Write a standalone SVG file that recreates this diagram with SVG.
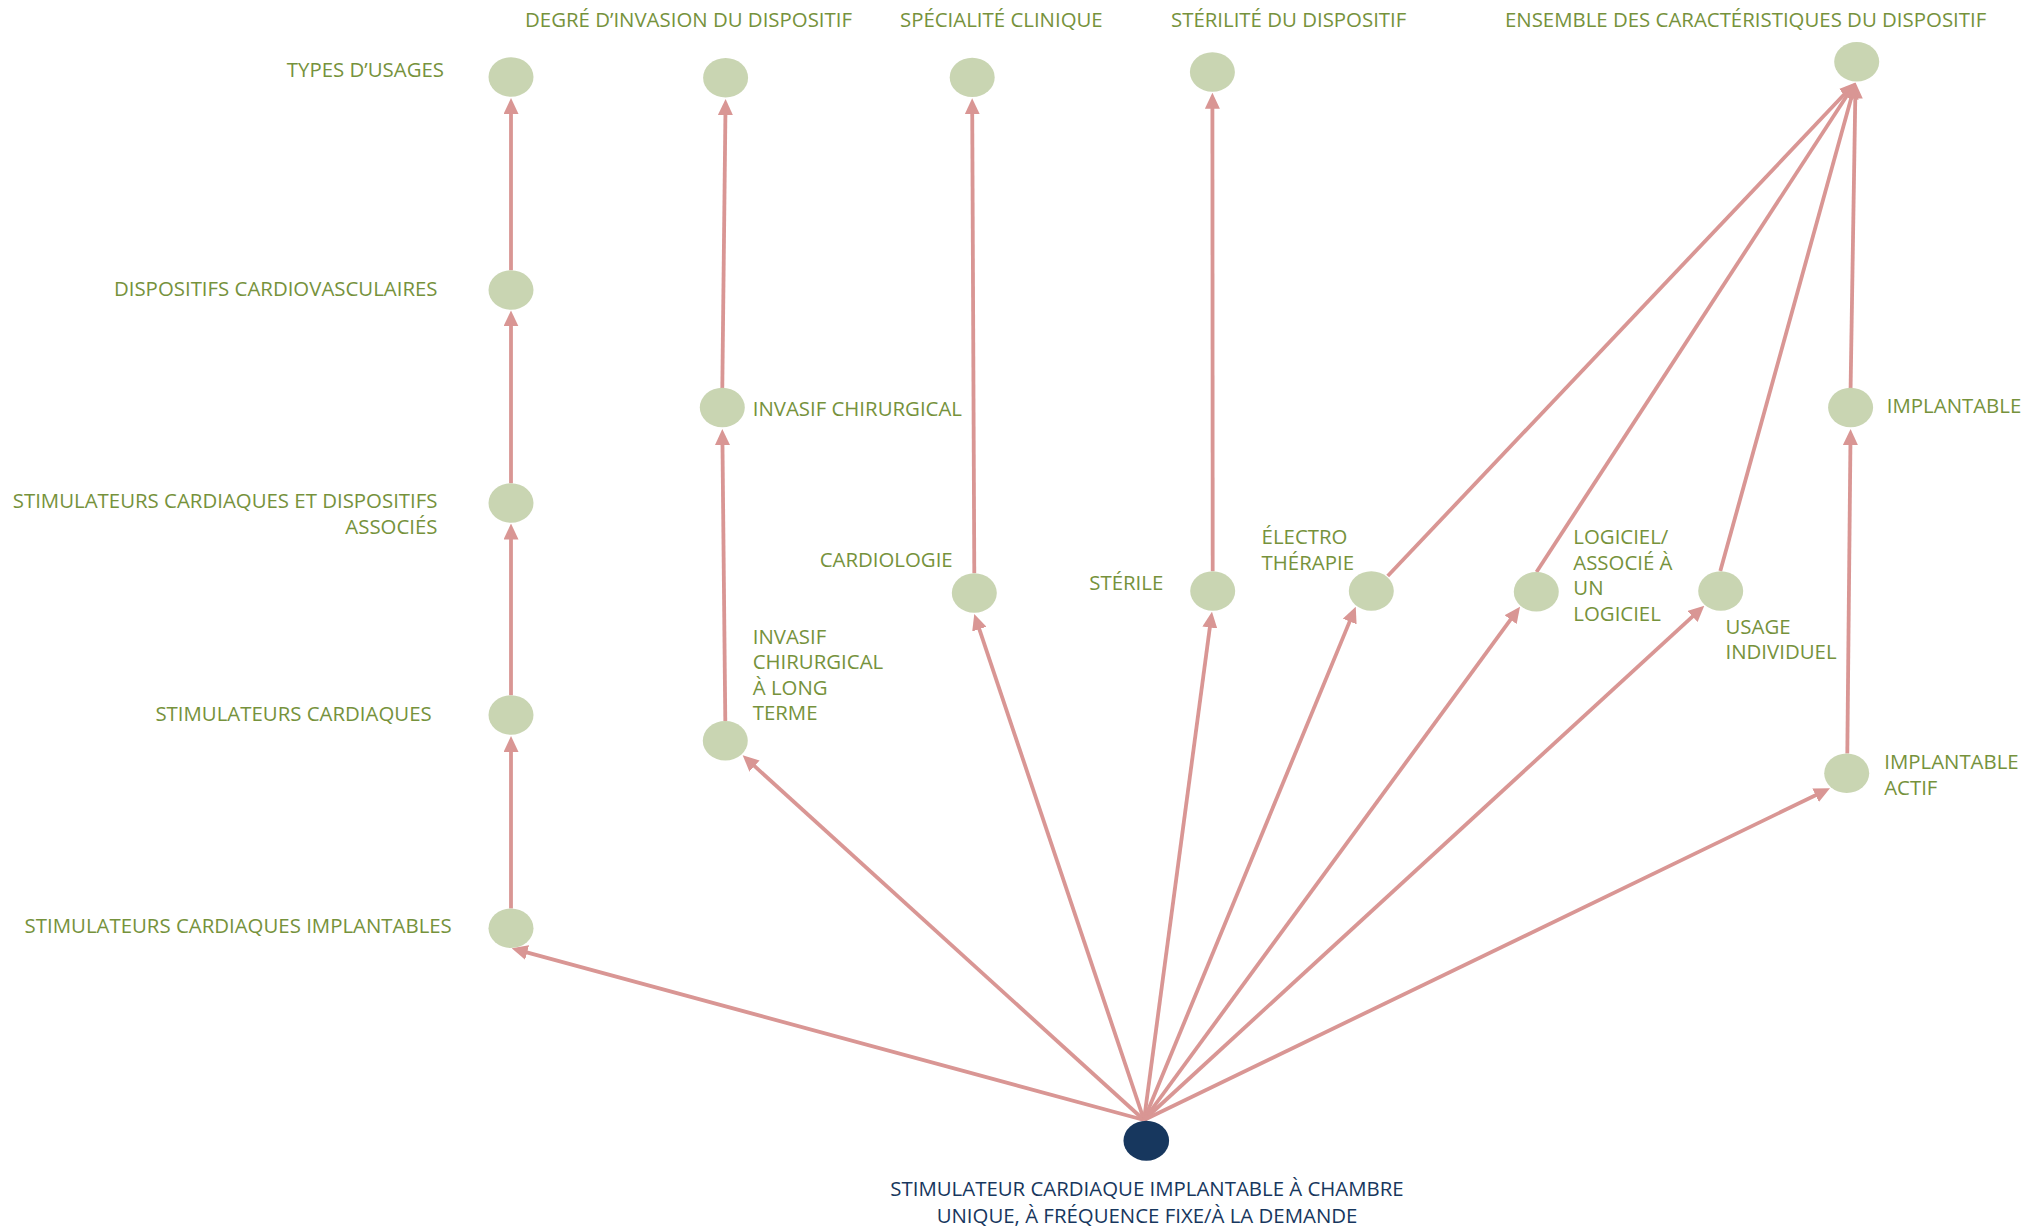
<svg xmlns="http://www.w3.org/2000/svg" width="2031" height="1232" viewBox="0 0 2031 1232">
<style>
.n{fill:#C9D5B2}
.r{fill:#17375E}
.t{font-family:"Open Sans","Liberation Sans",sans-serif;font-size:20.4px;fill:#76923C}
.rt{font-family:"Open Sans","Liberation Sans",sans-serif;font-size:20.4px;fill:#17375E}
.e{stroke:#D99694;stroke-width:3.8;fill:none;marker-end:url(#a)}
.end{text-anchor:end}
.mid{text-anchor:middle}
</style>
<defs>
<marker id="a" markerUnits="userSpaceOnUse" markerWidth="16" markerHeight="15" viewBox="0 0 16 15" refX="8" refY="7.5" orient="auto">
<path d="M0,0 L16,7.5 L0,15 z" fill="#D99694"/>
</marker>
</defs>
<rect width="2031" height="1232" fill="#FFFFFF"/>
<g id="connectors">
<line class="e" x1="511" y1="908.5" x2="511" y2="744"/>
<line class="e" x1="511" y1="695.3" x2="511" y2="531.5"/>
<line class="e" x1="511" y1="483.3" x2="511" y2="318.4"/>
<line class="e" x1="511" y1="270.3" x2="511" y2="106"/>
<line class="e" x1="725.3" y1="721" x2="722.4" y2="437"/>
<line class="e" x1="722.3" y1="388" x2="725.5" y2="107"/>
<line class="e" x1="974.3" y1="573.3" x2="972.2" y2="106.2"/>
<line class="e" x1="1212.7" y1="571.3" x2="1212.4" y2="100.7"/>
<line class="e" x1="1847.3" y1="753.5" x2="1850.5" y2="437"/>
<line class="e" x1="1850.6" y1="388" x2="1855.4" y2="90.5"/>
<line class="e" x1="1387.7" y1="576" x2="1850" y2="88.3"/>
<line class="e" x1="1536.5" y1="572" x2="1851.1" y2="89.2"/>
<line class="e" x1="1720.3" y1="571" x2="1853.4" y2="90.2"/>
<line class="e" x1="1144" y1="1120" x2="519.4" y2="950.4"/>
<line class="e" x1="1144" y1="1120" x2="748.6" y2="760.7"/>
<line class="e" x1="1144" y1="1120" x2="976.8" y2="621.6"/>
<line class="e" x1="1144" y1="1120" x2="1210.9" y2="619.6"/>
<line class="e" x1="1144" y1="1120" x2="1352.7" y2="614.1"/>
<line class="e" x1="1144" y1="1120" x2="1515.3" y2="613.2"/>
<line class="e" x1="1144" y1="1120" x2="1698.4" y2="611.1"/>
<line class="e" x1="1144" y1="1120" x2="1822.8" y2="791.8"/>
</g>
<g id="types"><ellipse class="n" cx="511" cy="77" rx="22.5" ry="19.7"/><text class="t end" x="444" y="77">TYPES D’USAGES</text></g>
<g id="cardiovasculaires"><ellipse class="n" cx="511" cy="290" rx="22.5" ry="19.7"/><text class="t end" x="437.5" y="296">DISPOSITIFS CARDIOVASCULAIRES</text></g>
<g id="stim-associes"><ellipse class="n" cx="511" cy="503" rx="22.5" ry="19.7"/><text class="t end" x="437.5" y="508">STIMULATEURS CARDIAQUES ET DISPOSITIFS</text><text class="t end" x="437.5" y="534">ASSOCIÉS</text></g>
<g id="stim"><ellipse class="n" cx="511" cy="715" rx="22.5" ry="19.7"/><text class="t end" x="431.7" y="721">STIMULATEURS CARDIAQUES</text></g>
<g id="stim-impl"><ellipse class="n" cx="511" cy="928.3" rx="22.5" ry="19.7"/><text class="t end" x="451.8" y="933">STIMULATEURS CARDIAQUES IMPLANTABLES</text></g>
<g id="degre"><ellipse class="n" cx="725.6" cy="77.8" rx="22.5" ry="19.7"/><text class="t" x="525" y="27">DEGRÉ D’INVASION DU DISPOSITIF</text></g>
<g id="invasif"><ellipse class="n" cx="722.3" cy="407.5" rx="22.5" ry="19.7"/><text class="t" x="752.7" y="415.5">INVASIF CHIRURGICAL</text></g>
<g id="invasif-long"><ellipse class="n" cx="725.3" cy="740.7" rx="22.5" ry="19.7"/><text class="t" x="752.7" y="643.5">INVASIF</text><text class="t" x="752.7" y="669">CHIRURGICAL</text><text class="t" x="752.7" y="694.6">À LONG</text><text class="t" x="752.7" y="720">TERME</text></g>
<g id="specialite"><ellipse class="n" cx="972.2" cy="77.4" rx="22.5" ry="19.7"/><text class="t" x="900" y="27">SPÉCIALITÉ CLINIQUE</text></g>
<g id="cardiologie"><ellipse class="n" cx="974.3" cy="593" rx="22.5" ry="19.7"/><text class="t end" x="952.7" y="567">CARDIOLOGIE</text></g>
<g id="sterilite"><ellipse class="n" cx="1212.4" cy="72" rx="22.5" ry="19.7"/><text class="t" x="1171" y="27">STÉRILITÉ DU DISPOSITIF</text></g>
<g id="sterile"><ellipse class="n" cx="1212.7" cy="591" rx="22.5" ry="19.7"/><text class="t end" x="1163.3" y="590">STÉRILE</text></g>
<g id="ensemble"><ellipse class="n" cx="1856.7" cy="61.7" rx="22.5" ry="19.7"/><text class="t" x="1505" y="27">ENSEMBLE DES CARACTÉRISTIQUES DU DISPOSITIF</text></g>
<g id="electro"><ellipse class="n" cx="1371.3" cy="591" rx="22.5" ry="19.7"/><text class="t" x="1261.6" y="544">ÉLECTRO</text><text class="t" x="1261.6" y="569.7">THÉRAPIE</text></g>
<g id="logiciel"><ellipse class="n" cx="1536.3" cy="591.7" rx="22.5" ry="19.7"/><text class="t" x="1573.3" y="544">LOGICIEL/</text><text class="t" x="1573.3" y="569.7">ASSOCIÉ À</text><text class="t" x="1573.3" y="595">UN</text><text class="t" x="1573.3" y="620.5">LOGICIEL</text></g>
<g id="usage"><ellipse class="n" cx="1720.7" cy="591" rx="22.5" ry="19.7"/><text class="t" x="1725.5" y="633.6">USAGE</text><text class="t" x="1725.5" y="658.6">INDIVIDUEL</text></g>
<g id="implantable"><ellipse class="n" cx="1850.6" cy="407.5" rx="22.5" ry="19.7"/><text class="t" x="1886.8" y="413">IMPLANTABLE</text></g>
<g id="implantable-actif"><ellipse class="n" cx="1846.7" cy="773.3" rx="22.5" ry="19.7"/><text class="t" x="1884.2" y="769">IMPLANTABLE</text><text class="t" x="1884.2" y="794.8">ACTIF</text></g>
<g id="root"><ellipse class="r" cx="1146.3" cy="1140.7" rx="22.8" ry="20"/><text class="rt mid" x="1147" y="1196">STIMULATEUR CARDIAQUE IMPLANTABLE À CHAMBRE</text><text class="rt mid" x="1147" y="1222.5">UNIQUE, À FRÉQUENCE FIXE/À LA DEMANDE</text></g>
</svg>
